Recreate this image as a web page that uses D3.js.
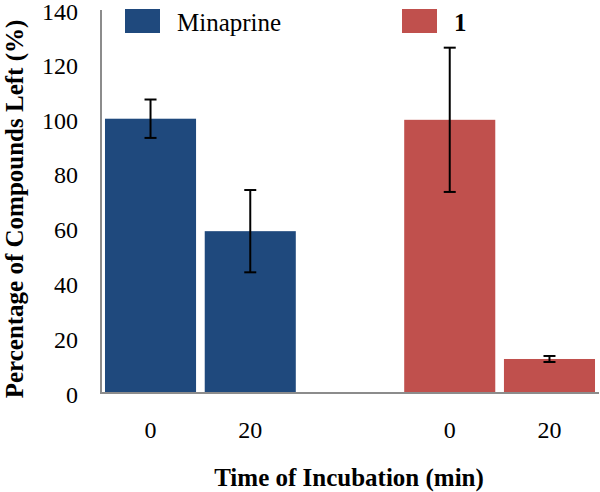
<!DOCTYPE html>
<html><head><meta charset="utf-8">
<script src="https://cdn.jsdelivr.net/npm/d3@7"></script>
<style>
body{margin:0;background:#fff;font-family:"Liberation Serif","Times New Roman",serif}
svg{display:block}
svg text{font-family:"Liberation Serif","Times New Roman",serif !important;fill:#000}
</style>
</head><body>
<script>
const seriesNames = ["Minaprine", "1"];
const seriesColors = ["#1F497D", "#C0504D"];
const timeLabels = ["0", "20"];
const minaprineValues = [100, 59];
const minaprineErrors = [7, 15];
const compound1Values = [99.6, 12.4];
const compound1Errors = [26.3, 1.1];
const yTicks = [0, 20, 40, 60, 80, 100, 120, 140];

// slots: two per series with an empty slot between the groups
const slots = ["m0", "m20", "gap", "c0", "c20"];
const bars = [
  {slot: "m0", label: timeLabels[0], v: minaprineValues[0], e: minaprineErrors[0], s: 0},
  {slot: "m20", label: timeLabels[1], v: minaprineValues[1], e: minaprineErrors[1], s: 0},
  {slot: "c0", label: timeLabels[0], v: compound1Values[0], e: compound1Errors[0], s: 1},
  {slot: "c20", label: timeLabels[1], v: compound1Values[1], e: compound1Errors[1], s: 1}
];

const W = 600, H = 492;
const svg = d3.select("body").append("svg").attr("width", W).attr("height", H);
const x = d3.scaleBand().domain(slots).range([101, 599]).paddingInner(0.087).paddingOuter(0.04);
const y = d3.scaleLinear().domain([0, 140]).range([393, 9]);

// bars
svg.selectAll("rect.bar").data(bars).enter().append("rect")
  .attr("class", "bar")
  .attr("x", d => x(d.slot)).attr("width", x.bandwidth())
  .attr("y", d => y(d.v)).attr("height", d => y(0) - y(d.v))
  .attr("fill", d => seriesColors[d.s]);

// error bars
const eb = svg.selectAll("g.err").data(bars).enter().append("g").attr("class", "err")
  .attr("stroke", "#000").attr("stroke-width", 2);
eb.append("line").attr("x1", d => x(d.slot) + x.bandwidth() / 2).attr("x2", d => x(d.slot) + x.bandwidth() / 2)
  .attr("y1", d => y(d.v + d.e)).attr("y2", d => y(d.v - d.e));
[1, -1].forEach(sg => {
  eb.append("line").attr("x1", d => x(d.slot) + x.bandwidth() / 2 - 6).attr("x2", d => x(d.slot) + x.bandwidth() / 2 + 6)
    .attr("y1", d => y(d.v + sg * d.e)).attr("y2", d => y(d.v + sg * d.e));
});

// axes
const yAxis = d3.axisLeft(y).tickValues(yTicks).tickSize(0).tickPadding(23);
const gy = svg.append("g").attr("transform", "translate(101,0)").call(yAxis);
gy.attr("font-family", null).attr("font-size", null);
gy.select(".domain").attr("stroke", "#8c8c8c").attr("stroke-width", 2).attr("d", `M0,${y(0)}V10`);
gy.selectAll("text").style("font-size", "24px").attr("dy", "0.35em")
  .attr("y", d => d === 140 ? 2 : 1);

const xAxis = d3.axisBottom(x).tickSize(0).tickPadding(28).tickFormat(s => {
  const b = bars.find(d => d.slot === s); return b ? b.label : "";
});
const gx = svg.append("g").attr("transform", `translate(0,${y(0)})`).call(xAxis);
gx.attr("font-family", null).attr("font-size", null);
gx.select(".domain").attr("stroke", "#8c8c8c").attr("stroke-width", 2).attr("d", "M100,0H599");
gx.selectAll("text").style("font-size", "24px");

// axis titles
svg.append("text").attr("transform", "translate(23,209) rotate(-90)")
  .attr("text-anchor", "middle").style("font-weight", "bold")
  .style("font-size", "25px").text("Percentage of Compounds Left (%)");
svg.append("text").attr("x", 349).attr("y", 486)
  .attr("text-anchor", "middle").style("font-weight", "bold")
  .style("font-size", "25px").text("Time of Incubation (min)");

// legend
const legX = [125, 402];
seriesNames.forEach((n, i) => {
  svg.append("rect").attr("x", legX[i]).attr("y", 9).attr("width", 35).attr("height", 24)
    .attr("fill", seriesColors[i]);
  svg.append("text").attr("x", legX[i] + 52).attr("y", 31)
    .style("font-size", "25px").style("font-weight", i === 1 ? "bold" : "normal").text(n);
});
</script>
</body></html>
